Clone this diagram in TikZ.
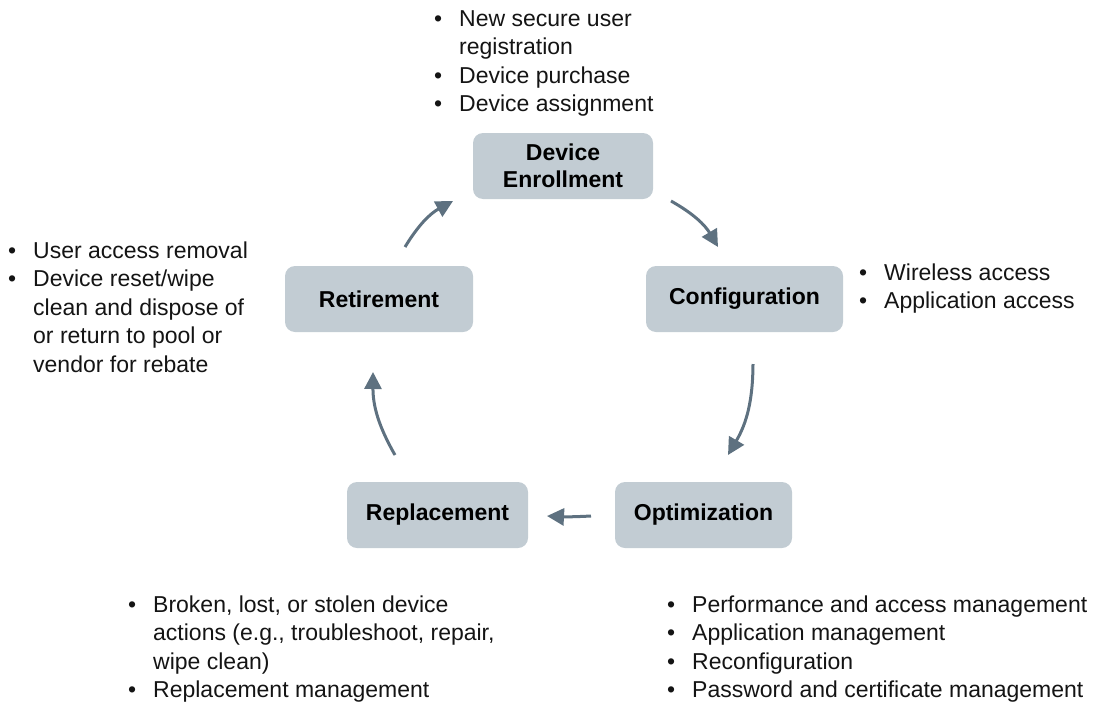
\documentclass[tikz,border=0pt]{standalone}
\usepackage{fontspec}
\setmainfont{Liberation Sans}
\usetikzlibrary{arrows.meta}
\definecolor{boxfill}{RGB}{194,204,211}
\definecolor{arrowc}{RGB}{94,113,128}
\definecolor{txt}{RGB}{20,20,20}
\newcommand\bul{\makebox[25pt][l]{\textbullet}}
\newcommand\ind{\hspace*{25pt}}
\tikzset{
  box/.style={rounded corners=10pt, fill=boxfill, minimum height=66pt, inner sep=0pt,
    align=center, font=\fontsize{23}{27}\selectfont\bfseries, text=black},
  blk/.style={anchor=base west, inner sep=0pt, text=txt, font=\fontsize{23}{28.5}\selectfont},
  arr/.style={draw=arrowc, line width=3pt, -{Triangle[length=17pt,width=17pt]}}
}
\begin{document}
\begin{tikzpicture}[x=1pt,y=-1pt]
\useasboundingbox (0,0) rectangle (1099,704);
% boxes
\node[box, minimum width=180pt] (enr) at (563,166) {Device\\Enrollment};
\node[box, minimum width=188pt] (ret) at (379,299) {Retirement};
\node[box, minimum width=197pt] (cfg) at (744.5,299) {Configuration};
\node[box, minimum width=177pt] (opt) at (703.5,515) {Optimization};
\node[box, minimum width=181pt] (rep) at (437.5,515) {Replacement};
% arrow endpoints
\coordinate (a1s) at (405,247); \coordinate (a1e) at (453,201);
\coordinate (a2s) at (671,201); \coordinate (a2e) at (718,247);
\coordinate (a3s) at (753,364); \coordinate (a3e) at (728,455);
\coordinate (a4s) at (591,516); \coordinate (a4e) at (547,516);
\coordinate (a5s) at (395,455); \coordinate (a5e) at (373,372);
\draw[arr] (a1s) to[bend left=15] (a1e);
\draw[arr] (a2s) to[bend left=15] (a2e);
\draw[arr] (a3s) to[bend left=15] (a3e);
\draw[arr] (a4s) to[bend left=3] (a4e);
\draw[arr] (a5s) to[bend left=15] (a5e);
% text blocks
\node[blk] (tenr) at (434,26) {\begin{tabular}[t]{@{}l@{}}
\bul New secure user\\ \ind registration\\ \bul Device purchase\\ \bul Device assignment\end{tabular}};
\node[blk] (tret) at (8,258) {\begin{tabular}[t]{@{}l@{}}
\bul User access removal\\ \bul Device reset/wipe\\ \ind clean and dispose of\\ \ind or return to pool or\\ \ind vendor for rebate\end{tabular}};
\node[blk] (tcfg) at (859,280) {\begin{tabular}[t]{@{}l@{}}
\bul Wireless access\\ \bul Application access\end{tabular}};
\node[blk] (trep) at (128,612) {\begin{tabular}[t]{@{}l@{}}
\bul Broken, lost, or stolen device\\ \ind actions (e.g., troubleshoot, repair,\\ \ind wipe clean)\\ \bul Replacement management\end{tabular}};
\node[blk] (topt) at (667,612) {\begin{tabular}[t]{@{}l@{}}
\bul Performance and access management\\ \bul Application management\\ \bul Reconfiguration\\ \bul Password and certificate management\end{tabular}};
\end{tikzpicture}
\end{document}
